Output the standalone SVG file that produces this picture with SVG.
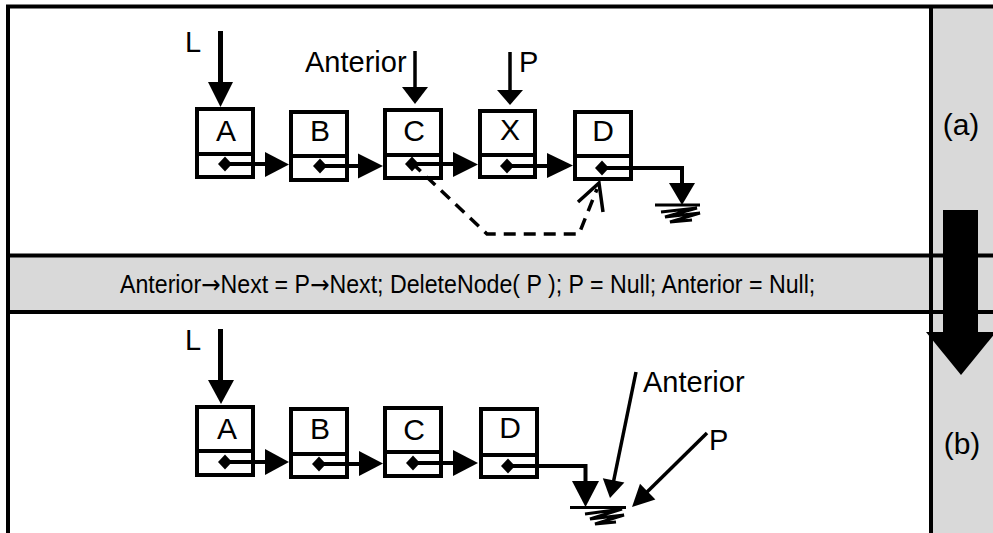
<svg xmlns="http://www.w3.org/2000/svg" width="993" height="533" viewBox="0 0 993 533">
<style>
  text { font-family: "Liberation Sans", Arial, sans-serif; fill: #000; }
  .lbl { font-size: 30px; text-anchor: middle; }
  .ptr { font-size: 29px; }
  .box { fill: #fff; stroke: #000; stroke-width: 4; }
  .div { stroke: #000; stroke-width: 4; }
  .frame { stroke: #000; stroke-width: 4; fill: none; }
  .link { stroke: #000; stroke-width: 4; fill: none; }
  .thin { stroke: #000; stroke-width: 3.5; fill: none; }
  .head { fill: #000; stroke: none; }
  .dash { stroke: #000; stroke-width: 3.5; fill: none; stroke-dasharray: 12 8; }
  .gnd { stroke: #000; stroke-width: 3; fill: none; stroke-linejoin: miter; }
  .eq { font-size: 25px; }
  .arr { font-family: "DejaVu Sans", sans-serif; }
</style>
<defs>
  <polygon id="dia" points="0,-7.5 7,0 0,7.5 -7,0" fill="#000"/>
</defs>

<g id="background">
  <rect x="0" y="0" width="993" height="533" fill="#fff"/>
  <rect x="10" y="257" width="919" height="53" fill="#d9d9d9"/>
  <rect x="933" y="8" width="60" height="525" fill="#d9d9d9"/>
</g>

<g id="frame">
  <line class="frame" x1="6" y1="6.5" x2="993" y2="6.5"/>
  <line class="frame" x1="8" y1="5" x2="8" y2="533"/>
  <line class="frame" x1="931" y1="5" x2="931" y2="533"/>
  <line class="frame" x1="6" y1="255.5" x2="993" y2="255.5"/>
  <line class="frame" x1="6" y1="312" x2="993" y2="312"/>
</g>

<g id="big-arrow">
  <rect x="943" y="210" width="35" height="124" fill="#000"/>
  <polygon points="926,332 996,332 961,375" fill="#000"/>
</g>

<g id="labels">
  <text class="lbl" x="961" y="135">(a)</text>
  <text class="lbl" x="962" y="454">(b)</text>
</g>

<g id="equation">
  <text class="eq" transform="translate(120,293) scale(0.927,1)" x="0" y="0">Anterior<tspan class="arr">→</tspan>Next = P<tspan class="arr">→</tspan>Next; DeleteNode( P ); P = Null; Anterior = Null;</text>
</g>

<!-- (a) top list -->
<g id="a-nodeA">
  <rect class="box" x="197" y="109" width="56" height="68"/>
  <line class="div" x1="197" y1="154" x2="253" y2="154"/>
  <text class="lbl" x="226" y="141">A</text>
</g>
<g id="a-nodeB">
  <rect class="box" x="291" y="112" width="56" height="68"/>
  <line class="div" x1="291" y1="156" x2="347" y2="156"/>
  <text class="lbl" x="320" y="141">B</text>
</g>
<g id="a-nodeC">
  <rect class="box" x="385" y="110" width="56" height="68"/>
  <line class="div" x1="385" y1="155" x2="441" y2="155"/>
  <text class="lbl" x="414" y="141">C</text>
</g>
<g id="a-nodeX">
  <rect class="box" x="480" y="111" width="55" height="66"/>
  <line class="div" x1="480" y1="155" x2="535" y2="155"/>
  <text class="lbl" x="510" y="140">X</text>
</g>
<g id="a-nodeD">
  <rect class="box" x="575" y="112" width="56" height="67"/>
  <line class="div" x1="575" y1="156" x2="631" y2="156"/>
  <text class="lbl" x="603" y="141">D</text>
</g>

<g id="a-pointers">
  <text class="ptr" x="185" y="52">L</text>
  <line x1="220.5" y1="31" x2="220.5" y2="84" stroke="#000" stroke-width="5"/>
  <polygon class="head" points="208,82 233,82 220.5,107"/>
  <text class="ptr" x="305" y="72">Anterior</text>
  <line class="thin" x1="415" y1="51" x2="415" y2="89"/>
  <polygon class="head" points="402,87 428,87 415,104"/>
  <text class="ptr" x="519" y="72">P</text>
  <line class="thin" x1="510" y1="52" x2="510" y2="92"/>
  <polygon class="head" points="497,90 523,90 510,105"/>
</g>

<g id="a-connectors">
  <use href="#dia" x="225" y="164"/>
  <line class="link" x1="225" y1="164" x2="267" y2="164"/>
  <polygon class="head" points="265,152 265,177 289,164.5"/>
  <use href="#dia" x="320" y="166"/>
  <line class="link" x1="320" y1="166" x2="360" y2="166"/>
  <polygon class="head" points="358,153.5 358,178.5 383,166"/>
  <use href="#dia" x="412" y="164"/>
  <line class="link" x1="412" y1="164" x2="455" y2="164"/>
  <polygon class="head" points="453,152 453,177 478,164.5"/>
  <use href="#dia" x="507" y="166"/>
  <line class="link" x1="507" y1="166" x2="549" y2="166"/>
  <polygon class="head" points="547,153 547,178 573,165.5"/>
  <use href="#dia" x="602" y="168"/>
  <polyline class="link" points="602,168 682,168 682,185"/>
  <polygon class="head" points="669,183 695,183 682,205"/>
  <line class="gnd" x1="655" y1="205" x2="700" y2="205" stroke-width="3.5"/>
  <polyline class="gnd" points="661,212 697,208 665,217 700,213 670,222 692,220"/>
  <polyline class="dash" points="412,163 487,234 579,234 597,189"/>
  <polyline class="thin" points="578,202 599,183 603,212"/>
</g>

<!-- (b) bottom list -->
<g id="b-nodeA">
  <rect class="box" x="197" y="407" width="56" height="68"/>
  <line class="div" x1="197" y1="451" x2="253" y2="451"/>
  <text class="lbl" x="227" y="439">A</text>
</g>
<g id="b-nodeB">
  <rect class="box" x="291" y="409" width="56" height="68"/>
  <line class="div" x1="291" y1="454" x2="347" y2="454"/>
  <text class="lbl" x="320" y="439">B</text>
</g>
<g id="b-nodeC">
  <rect class="box" x="385" y="408" width="56" height="68"/>
  <line class="div" x1="385" y1="452" x2="441" y2="452"/>
  <text class="lbl" x="414" y="440">C</text>
</g>
<g id="b-nodeD">
  <rect class="box" x="481" y="409" width="56" height="68"/>
  <line class="div" x1="481" y1="455" x2="537" y2="455"/>
  <text class="lbl" x="510" y="438">D</text>
</g>

<g id="b-pointers">
  <text class="ptr" x="185" y="350">L</text>
  <line x1="220.5" y1="329" x2="220.5" y2="382" stroke="#000" stroke-width="5"/>
  <polygon class="head" points="208,380 234,380 221,404"/>
  <text class="ptr" x="643" y="392">Anterior</text>
  <line class="thin" x1="636" y1="372" x2="613" y2="484"/>
  <polygon class="head" points="624.4,482.6 602.8,478.2 610,498"/>
  <text class="ptr" x="709" y="450">P</text>
  <line class="thin" x1="707" y1="433" x2="645" y2="494"/>
  <polygon class="head" points="655.4,499.4 640,483.8 632,507"/>
</g>

<g id="b-connectors">
  <use href="#dia" x="225" y="462"/>
  <line class="link" x1="225" y1="462" x2="267" y2="462"/>
  <polygon class="head" points="265,449 265,475 289,462"/>
  <use href="#dia" x="319" y="464"/>
  <line class="link" x1="319" y1="464" x2="361" y2="464"/>
  <polygon class="head" points="359,451 359,476 383,463.5"/>
  <use href="#dia" x="413" y="463"/>
  <line class="link" x1="413" y1="463" x2="455" y2="463"/>
  <polygon class="head" points="453,450 453,476 478,463"/>
  <use href="#dia" x="508" y="466"/>
  <polyline class="link" points="508,466 585.5,466 585.5,483"/>
  <polygon class="head" points="572,481 599,481 585.5,507"/>
  <line class="gnd" x1="570" y1="507.5" x2="626" y2="507.5" stroke-width="3.5"/>
  <polyline class="gnd" points="585,514 622,509 590,519 624,515 595,524 616,522"/>
</g>
</svg>
